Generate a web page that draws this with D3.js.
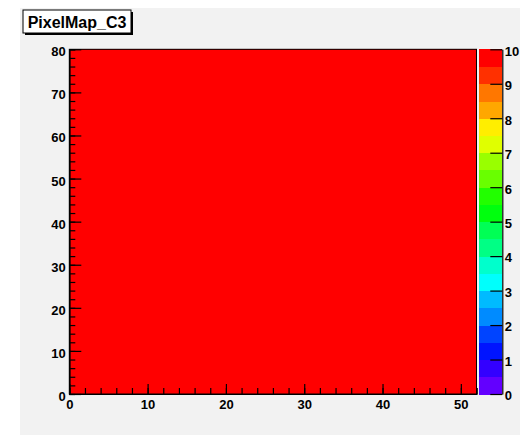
<!DOCTYPE html>
<html>
<head>
<meta charset="utf-8">
<script src="https://cdn.jsdelivr.net/npm/d3@7"></script>
<style>
  html, body { margin: 0; padding: 0; background: #ffffff; }
  svg { display: block; }
  .lbl text { font-family: "Liberation Sans", Arial, Helvetica, sans-serif; font-weight: bold; font-size: 13px; fill: #000; }
</style>
</head>
<body>
<svg id="chart" width="520" height="435"></svg>
<script>
// Pixel map: 52 columns x 80 rows, every pixel at the same level
const histTitle = "PixelMap_C3";
const xRange = [0, 52];
const yRange = [0, 80];
const zRange = [0, 10];
const nCols = 52;
const nRows = 80;
const pixelLevel = 10;

// Axis ticks
const xMajorTicks = [0, 10, 20, 30, 40, 50];
const yMajorTicks = [0, 10, 20, 30, 40, 50, 60, 70, 80];
const zMajorTicks = [0, 1, 2, 3, 4, 5, 6, 7, 8, 9, 10];

// 20 contour levels, violet -> red spectrum (hue in degrees)
const contourHues = [263.2, 252, 235.2, 224, 207.2, 196, 179.2, 168, 151.2, 140,
                     123.2, 112, 95.2, 84, 67.2, 56, 39.2, 28, 11.2, 0];

const svg = d3.select("#chart");
const W = 520, H = 435;

// canvas background
svg.append("rect").attr("x", 20).attr("y", 8).attr("width", W - 20).attr("height", H - 8).attr("fill", "#f2f2f2");

const frame = { left: 69.3, right: 476.5, top: 49.3, bottom: 394 };
const bar = { left: 478.5, right: 502.3 };

const x = d3.scaleLinear().domain(xRange).range([frame.left, frame.right]);
const y = d3.scaleLinear().domain(yRange).range([frame.bottom, frame.top]);
const z = d3.scaleLinear().domain(zRange).range([frame.bottom, frame.top]);

const nLevels = contourHues.length;
const levelColors = contourHues.map(h => d3.hsl(h, 1, 0.5).formatHex());
const dz = (zRange[1] - zRange[0]) / nLevels;
const colorOf = v => {
  let i = Math.floor((v - zRange[0]) / dz);
  i = Math.max(0, Math.min(nLevels - 1, i));
  return levelColors[i];
};

// cells
const cells = [];
for (let r = 0; r < nRows; r++) {
  for (let c = 0; c < nCols; c++) {
    cells.push({ c, r, v: pixelLevel });
  }
}
const cw = (xRange[1] - xRange[0]) / nCols;
const ch = (yRange[1] - yRange[0]) / nRows;
svg.append("g").attr("shape-rendering", "crispEdges")
  .selectAll("rect").data(cells).join("rect")
  .attr("x", d => x(xRange[0] + d.c * cw))
  .attr("y", d => y(yRange[0] + (d.r + 1) * ch))
  .attr("width", d => x(xRange[0] + (d.c + 1) * cw) - x(xRange[0] + d.c * cw) + 0.5)
  .attr("height", d => y(yRange[0] + d.r * ch) - y(yRange[0] + (d.r + 1) * ch) + 0.5)
  .attr("fill", d => colorOf(d.v));

// frame
svg.append("rect")
  .attr("x", frame.left).attr("y", frame.top)
  .attr("width", frame.right - frame.left).attr("height", frame.bottom - frame.top)
  .attr("fill", "none").attr("stroke", "#000").attr("stroke-width", 1);

// colour bar
const levels = d3.range(nLevels);
svg.append("g").attr("shape-rendering", "crispEdges")
  .selectAll("rect").data(levels).join("rect")
  .attr("x", bar.left)
  .attr("y", i => z(zRange[0] + (i + 1) * dz))
  .attr("width", bar.right - bar.left)
  .attr("height", i => z(zRange[0] + i * dz) - z(zRange[0] + (i + 1) * dz) + 0.5)
  .attr("fill", i => levelColors[i]);

function styleAxis(g) {
  g.selectAll("path.domain").attr("stroke", "#000").attr("stroke-width", 1.2);
  g.selectAll(".tick line").attr("stroke", "#000").attr("stroke-width", 1.2);
}

// x axis: minor then major
const xMinor = d3.range(xRange[0], xRange[1] + 0.001, 2);
svg.append("g").attr("transform", `translate(0,${frame.bottom})`)
  .call(d3.axisBottom(x).tickValues(xMinor).tickSize(-6).tickFormat(""))
  .call(styleAxis);
svg.append("g").attr("class", "lbl").attr("transform", `translate(0,${frame.bottom})`)
  .call(d3.axisBottom(x).tickValues(xMajorTicks).tickSizeInner(-10).tickSizeOuter(0).tickPadding(5.5).tickFormat(d3.format("d")))
  .call(styleAxis)
  .call(g => g.selectAll("text").attr("font-size", null));

// y axis
const yMinor = d3.range(yRange[0], yRange[1] + 0.001, 2);
svg.append("g").attr("transform", `translate(${frame.left},0)`)
  .call(d3.axisLeft(y).tickValues(yMinor).tickSize(-6).tickFormat(""))
  .call(styleAxis);
svg.append("g").attr("class", "lbl").attr("transform", `translate(${frame.left},0)`)
  .call(d3.axisLeft(y).tickValues(yMajorTicks).tickSizeInner(-12).tickSizeOuter(0).tickPadding(3.5).tickFormat(d3.format("d")))
  .call(styleAxis)
  .call(g => g.selectAll("text").attr("dy", "0.5em").attr("font-size", null));

// z axis
svg.append("g").attr("class", "lbl").attr("transform", `translate(${bar.right},0)`)
  .call(d3.axisRight(z).tickValues(zMajorTicks).tickSizeInner(-12).tickSizeOuter(0).tickPadding(2.5).tickFormat(d3.format("d")))
  .call(styleAxis)
  .call(g => g.selectAll("text").attr("dy", "0.45em").attr("font-size", null));

// title box with shadow
const tb = { x: 23, y: 10, w: 108, h: 23 };
svg.append("rect").attr("x", tb.x + 2).attr("y", tb.y + 2).attr("width", tb.w).attr("height", tb.h).attr("fill", "#000");
svg.append("rect").attr("x", tb.x).attr("y", tb.y).attr("width", tb.w).attr("height", tb.h)
  .attr("fill", "#ffffff").attr("stroke", "#000").attr("stroke-width", 1);
svg.append("text")
  .attr("x", tb.x + tb.w / 2).attr("y", tb.y + 17.5)
  .attr("text-anchor", "middle")
  .attr("font-family", "Liberation Sans, Arial, Helvetica, sans-serif")
  .attr("font-weight", "bold").attr("font-size", 16)
  .text(histTitle);
</script>
</body>
</html>
